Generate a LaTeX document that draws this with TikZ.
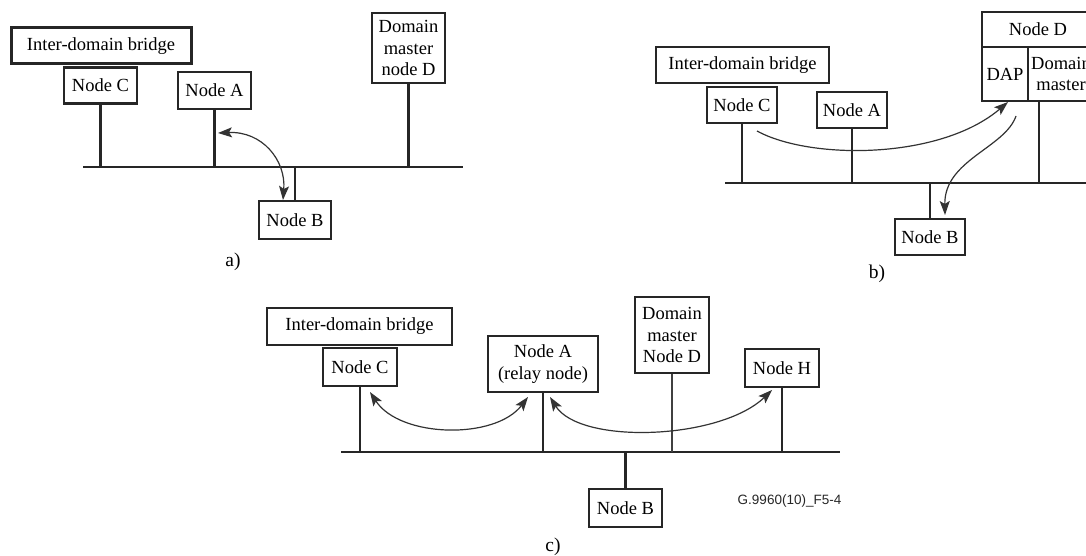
\documentclass[tikz,border=0pt]{standalone}
\usepackage{fontspec}
\setmainfont{Liberation Serif}
\newfontfamily\labelsans{Liberation Sans}
\usetikzlibrary{arrows.meta}
\begin{document}
\begin{tikzpicture}[x=1pt,y=-1pt,
  every node/.style={font=\fontsize{18.5}{21.5}\selectfont, inner sep=0pt, align=center},
  box/.style={draw=black!85, line width=2.1pt, fill=white},
  bus/.style={line width=2.9pt, black!85},
  drop/.style={line width=2.1pt, black!85},
  thindrop/.style={line width=1.3pt, black!75},
  conn/.style={line width=1.2pt, black!80},
  tip/.style={-{Stealth[length=14pt,width=10pt,inset=3pt]}},
  dtip/.style={{Stealth[length=14pt,width=10pt,inset=3pt]}-{Stealth[length=14pt,width=10pt,inset=3pt]}},
  sublabel/.style={font=\fontsize{19.5}{20}\selectfont}
]
\useasboundingbox (0,0) rectangle (1086,556);
\clip (0,0) rectangle (1086,556);

% ---------------- panel a ----------------
\coordinate (busAl) at (83,167);
\coordinate (busAr) at (463,167);
\draw[bus] (busAl) -- (busAr);
\node[box, line width=3pt, minimum width=180pt, minimum height=36pt] (bridgeA) at (101,46) {Inter-domain bridge};
\node[box, minimum width=73pt, minimum height=36pt] (nodeCA) at (100.5,85.5) {Node C};
\node[box, minimum width=73pt, minimum height=37pt] (nodeAA) at (214.5,90.5) {Node A};
\node[box, minimum width=73pt, minimum height=70pt] (nodeDA) at (408.5,48) {Domain\\master\\node D};
\node[box, minimum width=72pt, minimum height=38pt] (nodeBA) at (295,220) {Node B};
\draw[drop] (nodeCA.south) -- (nodeCA.south |- busAl);
\draw[drop] (nodeAA.south) -- (nodeAA.south |- busAl);
\draw[drop] (nodeDA.south) -- (nodeDA.south |- busAl);
\draw[drop] (nodeBA.north) -- (nodeBA.north |- busAl);
\coordinate (arA1) at (218,133);
\coordinate (arA2) at (283,200);
\draw[conn, dtip] (arA1) .. controls (262,131) and (286,160) .. (arA2);
\node[sublabel] (capA) at (233,262) {a)};

% ---------------- panel b ----------------
\coordinate (busBl) at (725,183);
\coordinate (busBr) at (1090,183);
\draw[bus] (busBl) -- (busBr);
\node[box, minimum width=173pt, minimum height=36pt] (bridgeB) at (742.5,65) {Inter-domain bridge};
\node[box, minimum width=70pt, minimum height=36pt] (nodeCB) at (742,105) {Node C};
\node[box, minimum width=70pt, minimum height=36pt] (nodeAB) at (852,110) {Node A};
\node[box, line width=1.7pt, minimum width=112pt, minimum height=35pt] (nodeDB) at (1038,29.5) {Node D};
\node[box, line width=1.7pt, minimum width=46pt, minimum height=54pt] (dapB) at (1005,74) {DAP};
\node[box, line width=1.7pt, minimum width=66pt, minimum height=54pt] (dmB) at (1061,74) {Domain\\master};
\node[box, minimum width=70pt, minimum height=36pt] (nodeBB) at (930,237) {Node B};
\draw[drop] (nodeCB.south) -- (nodeCB.south |- busBl);
\draw[drop] (nodeAB.south) -- (nodeAB.south |- busBl);
\coordinate (dlineB) at ([xshift=12pt]dmB.south west);
\draw[drop, line width=1.6pt] (dlineB) -- (dlineB |- busBl);
\draw[drop] (nodeBB.north) -- (nodeBB.north |- busBl);
\coordinate (arB1) at (757,131);
\coordinate (arB2) at (1008,102);
\draw[conn, tip] (arB1) .. controls (810,160) and (940,160) .. (arB2);
\coordinate (arB3) at (1016,116);
\coordinate (arB4) at (945,215);
\draw[conn, tip] (arB3) .. controls (1005,148) and (944,160) .. (arB4);
\node[sublabel] (capB) at (877,274) {b)};

% ---------------- panel c ----------------
\coordinate (busCl) at (341,452);
\coordinate (busCr) at (840,452);
\draw[bus] (busCl) -- (busCr);
\node[box, minimum width=185pt, minimum height=37pt] (bridgeC) at (359.5,326.5) {Inter-domain bridge};
\node[box, minimum width=74pt, minimum height=38pt] (nodeCC) at (360,367) {Node C};
\node[box, minimum width=110pt, minimum height=56pt] (nodeAC) at (543,364) {Node A\\(relay node)};
\node[box, minimum width=74pt, minimum height=76pt] (nodeDC) at (672,335) {Domain\\master\\Node D};
\node[box, minimum width=74pt, minimum height=38pt] (nodeHC) at (782,368) {Node H};
\node[box, minimum width=73pt, minimum height=38pt] (nodeBC) at (625.5,508) {Node B};
\draw[drop] (nodeCC.south) -- (nodeCC.south |- busCl);
\draw[drop] (nodeAC.south) -- (nodeAC.south |- busCl);
\draw[thindrop] (nodeDC.south) -- (nodeDC.south |- busCl);
\draw[drop] (nodeHC.south) -- (nodeHC.south |- busCl);
\draw[drop] (nodeBC.north) -- (nodeBC.north |- busCl);
\coordinate (arC1) at (370,392);
\coordinate (arC2) at (528,397);
\draw[conn, dtip] (arC1) .. controls (400,438) and (495,440) .. (arC2);
\coordinate (arC3) at (550,397);
\coordinate (arC4) at (772,390);
\draw[conn, dtip] (arC3) .. controls (580,445) and (720,440) .. (arC4);
\node[font=\labelsans\fontsize{13.5}{14}\selectfont, text=black!85] (figid) at (789.5,501) {G.9960(10)\_F5-4};
\node[sublabel] (capC) at (553,547) {c)};
\end{tikzpicture}
\end{document}
